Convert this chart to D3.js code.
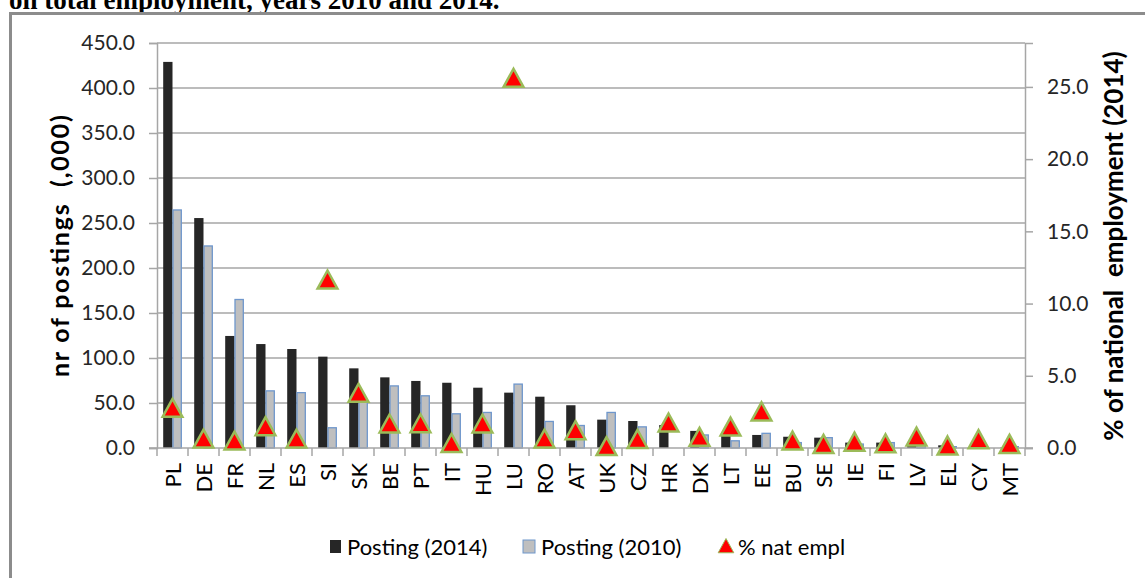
<!DOCTYPE html>
<html>
<head>
<meta charset="utf-8">
<script src="https://cdn.jsdelivr.net/npm/d3@7"></script>
<style>
	body { margin: 0; background: #fff; }
	text { font-family: Lato, "Open Sans", sans-serif; }
</style>
</head>
<body>
<div id="graph"></div>
<script>
var countries = ["PL","DE","FR","NL","ES","SI","SK","BE","PT","IT","HU","LU","RO","AT","UK","CZ","HR","DK","LT","EE","BU","SE","IE","FI","LV","EL","CY","MT"];
var posting2014 = [429, 255.5, 124.5, 115.5, 110, 101.5, 88.5, 78.5, 74.5, 72.5, 67, 61.5, 57, 47.5, 31.5, 30, 25.5, 19, 15.5, 14.5, 12.5, 11.5, 6, 6, 5, 3, 1, 0.5];
var posting2010 = [264.5, 224.5, 165, 63.5, 61.5, 22.5, 52, 69, 58, 38, 39.5, 71, 29.5, 25, 39.5, 23.5, 0, 14.5, 8, 16.3, 6, 11.5, 4.4, 6, 4.4, 1.5, 0.3, 1.5];
var pctNatEmpl = [2.75, 0.62, 0.48, 1.48, 0.62, 11.63, 3.79, 1.66, 1.68, 0.32, 1.66, 25.6, 0.62, 1.2, 0.1, 0.6, 1.73, 0.74, 1.45, 2.5, 0.48, 0.25, 0.4, 0.29, 0.76, 0.14, 0.58, 0.25];
var leftTicks = [0, 50, 100, 150, 200, 250, 300, 350, 400, 450];
var rightTicks = [0, 5, 10, 15, 20, 25];
var legendNames = ["Posting (2014)", "Posting (2010)", "% nat empl"];

var w = 1145, h = 578;
var plotLeft = 157, plotRight = 1025, plotTop = 43, plotBottom = 448;
var gridColor = "#a6a6a6";

var svg = d3.select("#graph")
	.append("svg")
	.attr("width", w)
	.attr("height", h);

// cut-off title line and the frame
svg.append("text")
	.attr("x", 9)
	.attr("y", 9)
	.style("font-family", "'Liberation Serif', serif")
	.style("font-weight", "bold")
	.style("font-size", "27px")
	.attr("fill", "#000")
	.text("on total employment, years 2010 and 2014.");

svg.append("path")
	.attr("d", "M10.5,580 V13.5 H1150")
	.attr("fill", "none")
	.attr("stroke", "#8c8c8c")
	.attr("stroke-width", 3);

var xScale = d3.scaleBand()
	.domain(countries)
	.range([plotLeft, plotRight])
	.padding(0);
var yScale = d3.scaleLinear()
	.domain([0, 450])
	.range([plotBottom, plotTop]);
var yScale2 = d3.scaleLinear()
	.domain([0, 28.04])
	.range([plotBottom, plotTop]);

// gridlines
svg.append("g")
	.selectAll("line")
	.data(leftTicks.slice(1))
	.enter()
	.append("line")
	.attr("x1", plotLeft)
	.attr("x2", plotRight)
	.attr("y1", function (d) { return yScale(d); })
	.attr("y2", function (d) { return yScale(d); })
	.attr("stroke", gridColor)
	.attr("stroke-width", 1.5);

// left axis
var leftAxis = svg.append("g")
	.attr("transform", "translate(" + plotLeft + ",0)")
	.call(d3.axisLeft(yScale).tickValues(leftTicks).tickSize(8).tickPadding(14).tickFormat(d3.format(".1f")));
// right axis
var rightAxis = svg.append("g")
	.attr("transform", "translate(" + plotRight + ",0)")
	.call(d3.axisRight(yScale2).tickValues(rightTicks).tickSize(8).tickPadding(14).tickFormat(d3.format(".1f")));

[leftAxis, rightAxis].forEach(function (a) {
	a.select(".domain").attr("stroke", gridColor).attr("stroke-width", 1.5);
	a.selectAll(".tick line").attr("stroke", gridColor).attr("stroke-width", 1.5);
	a.selectAll(".tick text")
		.style("font-size", "21px")
		.style("font-family", "Lato, sans-serif")
		.attr("fill", "#262626");
});

// bars
var barW = xScale.bandwidth() * 0.3;
var bars = svg.append("g").attr("id", "bars");

bars.selectAll("rect.p2014")
	.data(posting2014)
	.enter()
	.append("rect")
	.attr("class", "p2014")
	.attr("x", function (d, i) { return xScale(countries[i]) + xScale.bandwidth() / 2 - barW; })
	.attr("y", function (d) { return yScale(d); })
	.attr("width", barW)
	.attr("height", function (d) { return plotBottom - yScale(d); })
	.attr("fill", "#262626");

bars.selectAll("rect.p2010")
	.data(posting2010)
	.enter()
	.append("rect")
	.attr("class", "p2010")
	.attr("x", function (d, i) { return xScale(countries[i]) + xScale.bandwidth() / 2 + 0.5; })
	.attr("y", function (d) { return yScale(d); })
	.attr("width", barW - 1)
	.attr("height", function (d) { return plotBottom - yScale(d); })
	.attr("fill", "#bfbfbf")
	.attr("stroke", function (d) { return d > 0 ? "#6f97cc" : "none"; })
	.attr("stroke-width", 1.3);

// x axis
svg.append("line")
	.attr("x1", plotLeft - 8)
	.attr("x2", plotRight + 8)
	.attr("y1", plotBottom)
	.attr("y2", plotBottom)
	.attr("stroke", gridColor)
	.attr("stroke-width", 1.5);

svg.append("g")
	.selectAll("line")
	.data(countries.concat(["end"]))
	.enter()
	.append("line")
	.attr("x1", function (d, i) { return plotLeft + i * xScale.step(); })
	.attr("x2", function (d, i) { return plotLeft + i * xScale.step(); })
	.attr("y1", plotBottom)
	.attr("y2", plotBottom + 8)
	.attr("stroke", gridColor)
	.attr("stroke-width", 1.5);

svg.append("g")
	.selectAll("text")
	.data(countries)
	.enter()
	.append("text")
	.attr("transform", function (d) {
		return "translate(" + (xScale(d) + xScale.bandwidth() / 2 + 8) + "," + (plotBottom + 15) + ") rotate(-90)";
	})
	.attr("text-anchor", "end")
	.style("font-size", "22px")
	.attr("fill", "#000")
	.text(function (d) { return d; });

// triangles
function triangle(cx, cy, s) {
	return "M" + cx + "," + (cy - s * 0.5) +
		"L" + (cx + s * 0.52) + "," + (cy + s * 0.45) +
		"L" + (cx - s * 0.52) + "," + (cy + s * 0.45) + "Z";
}

svg.append("g")
	.selectAll("path")
	.data(pctNatEmpl)
	.enter()
	.append("path")
	.attr("d", function (d, i) {
		return triangle(xScale(countries[i]) + xScale.bandwidth() / 2, yScale2(d), 19);
	})
	.attr("fill", "#ff0000")
	.attr("stroke", "#9bbb59")
	.attr("stroke-width", 2.5)
	.attr("stroke-linejoin", "miter");

// axis titles
svg.append("text")
	.attr("transform", "translate(69,246) rotate(-90)")
	.attr("text-anchor", "middle")
	.style("font-weight", "bold")
	.style("font-size", "25px")
	.style("white-space", "pre")
	.attr("textLength", 262)
	.attr("lengthAdjust", "spacing")
	.attr("fill", "#000")
	.text("nr of postings  (,000)");

svg.append("text")
	.attr("transform", "translate(1123,246) rotate(-90)")
	.attr("text-anchor", "middle")
	.style("font-weight", "bold")
	.style("font-size", "26px")
	.style("white-space", "pre")
	.attr("fill", "#000")
	.text("% of national  employment (2014)");

// legend
var legend = svg.append("g").attr("id", "legend");
var legX = [330, 523, 718];

legend.append("rect")
	.attr("x", legX[0]).attr("y", 540)
	.attr("width", 11).attr("height", 13)
	.attr("fill", "#262626");
legend.append("rect")
	.attr("x", legX[1]).attr("y", 540)
	.attr("width", 12).attr("height", 13)
	.attr("fill", "#bfbfbf")
	.attr("stroke", "#6f97cc")
	.attr("stroke-width", 1);
legend.append("path")
	.attr("d", triangle(legX[2] + 8, 546, 15))
	.attr("fill", "#ff0000")
	.attr("stroke", "#9bbb59")
	.attr("stroke-width", 1);

legend.selectAll("text")
	.data(legendNames)
	.enter()
	.append("text")
	.attr("x", function (d, i) { return legX[i] + [17, 18, 20][i]; })
	.attr("y", 555)
	.style("font-size", "22px")
	.attr("fill", "#000")
	.text(function (d) { return d; });
</script>
</body>
</html>
